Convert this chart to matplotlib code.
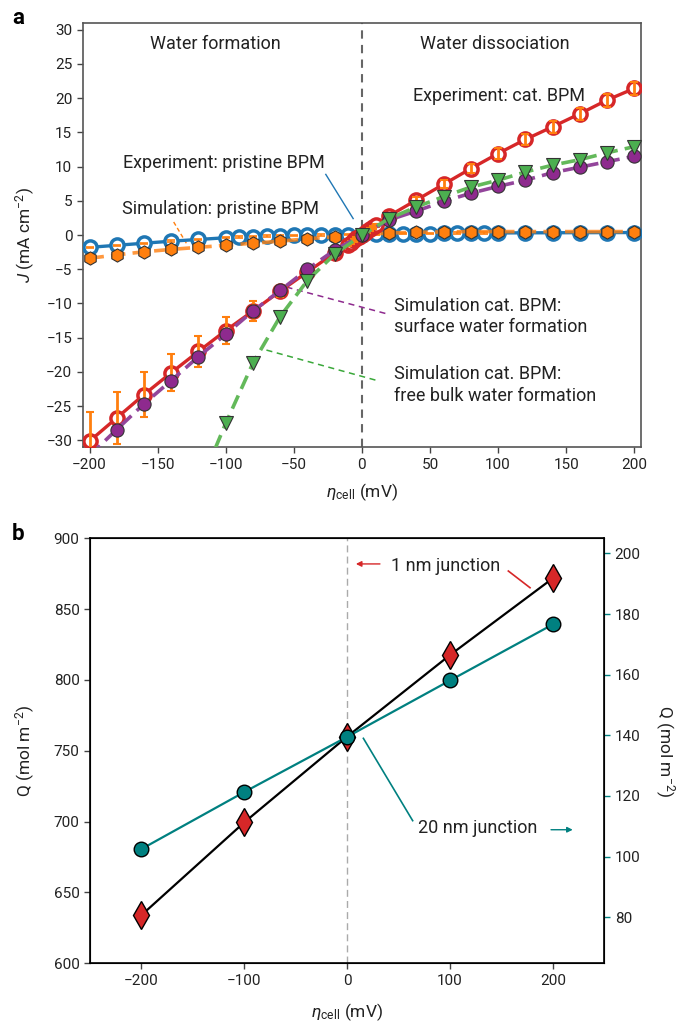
import matplotlib
matplotlib.use("Agg")
import matplotlib.pyplot as plt
import numpy as np

plt.rcParams['font.family'] = ['Roboto', 'DejaVu Sans']
plt.rcParams['mathtext.fontset'] = 'custom'
plt.rcParams['mathtext.rm'] = 'Roboto'
plt.rcParams['mathtext.it'] = 'Roboto:italic'
plt.rcParams['mathtext.bf'] = 'Roboto:bold'

# ---------------- Panel a data ----------------
x_pris_exp = [-200, -180, -160, -140, -120, -100, -90, -80, -70, -60, -50, -40, -30, -20, -10,
              0, 10, 20, 30, 40, 50, 60, 70, 80, 90, 100, 120, 140, 160, 180, 200]
J_pris_exp = [-1.8, -1.5, -1.2, -0.9, -0.65, -0.4, -0.3, -0.22, -0.15, -0.1, -0.06, -0.03, 0.0, 0.02, 0.03,
              0.05, 0.1, 0.15, 0.18, 0.2, 0.22, 0.25, 0.27, 0.28, 0.3, 0.3, 0.32, 0.33, 0.34, 0.35, 0.36]
err_pris_exp = [0.1] * len(x_pris_exp)

x_pris_sim = [-200, -180, -160, -140, -120, -100, -80, -60, -40, -20, 0,
              20, 40, 60, 80, 100, 120, 140, 160, 180, 200]
J_pris_sim = [-3.4, -2.9, -2.45, -2.1, -1.8, -1.5, -1.2, -0.9, -0.55, -0.25, 0.0,
              0.3, 0.4, 0.45, 0.5, 0.5, 0.5, 0.5, 0.5, 0.5, 0.5]

x_cat_exp = [-200, -180, -160, -140, -120, -100, -80, -60, -40, -20,
             -10, -8, -6, -4, -2, 0, 2, 4, 6, 8, 10,
             20, 40, 60, 80, 100, 120, 140, 160, 180, 200]
J_cat_exp = [-30.1, -26.7, -23.3, -20.1, -17.0, -13.95, -11.1, -8.2, -5.4, -2.6,
             -1.4, -1.1, -0.8, -0.5, -0.25, 0.0, 0.3, 0.55, 0.85, 1.1, 1.4,
             2.8, 5.1, 7.4, 9.7, 11.9, 13.95, 15.8, 17.7, 19.7, 21.4]
err_cat_exp = [4.3, 3.8, 3.3, 2.7, 2.3, 1.95, 1.45, 0.8, 0.6, 0.4,
               0.2, 0.2, 0.2, 0.2, 0.2, 0.2, 0.2, 0.2, 0.2, 0.2, 0.2,
               0.4, 0.5, 0.6, 0.7, 0.75, 0.8, 0.85, 0.9, 0.95, 1.0]

x_sim_surf = [-200, -180, -160, -140, -120, -100, -80, -60, -40, -20, 0,
              20, 40, 60, 80, 100, 120, 140, 160, 180, 200]
J_sim_surf = [-32.2, -28.4, -24.65, -21.25, -17.75, -14.5, -11.1, -8.1, -5.0, -2.2, 0.0,
              2.2, 3.5, 4.9, 6.1, 7.1, 8.0, 9.1, 9.9, 10.7, 11.5]

x_sim_bulk = [-120, -100, -80, -60, -40, -20, 0,
              20, 40, 60, 80, 100, 120, 140, 160, 180, 200]
J_sim_bulk = [-37.0, -27.5, -18.7, -11.9, -6.65, -2.8, 0.0,
              2.4, 4.1, 5.6, 7.0, 8.0, 9.2, 10.2, 11.0, 12.0, 12.9]

# ---------------- Panel b data ----------------
eta_b = [-200, -100, 0, 100, 200]
Q_1nm = [634, 699.5, 760, 817.6, 871.8]
Q_20nm = [102.5, 121.3, 139.5, 158.1, 176.6]

BLUE = '#1f77b4'
ORANGE = '#ff7f0e'
RED = '#d62728'
PURPLE = '#8e2a8e'
PURPLE_L = '#93459b'
GREEN = '#4caf50'
GREEN_L = '#63b95a'
TEAL = '#008080'
TXT = '#222222'

fig = plt.figure(figsize=(6.78, 10.22), dpi=100)
axa = fig.add_axes([0.122, 0.5623, 0.8235, 0.4155])
axb = fig.add_axes([0.1327, 0.0574, 0.7586, 0.4159])

TICK = 11
LAB = 12.5
TF = 13

# ---- Panel a ----
axa.axvline(0, color='#666666', ls=(0, (4, 3)), lw=1.5, zorder=1)

axa.plot(x_pris_exp, J_pris_exp, '-', color=BLUE, lw=2.4, marker='o', ms=9.5,
         mfc='white', mec=BLUE, mew=2.5, zorder=3)
axa.errorbar(x_pris_exp, J_pris_exp, yerr=err_pris_exp, fmt='none', ecolor=ORANGE,
             elinewidth=1.2, capsize=3, capthick=1.2, zorder=3.1)
axa.plot(x_pris_sim, J_pris_sim, ls=(0, (4, 2)), color=ORANGE, lw=2.6, alpha=0.8, zorder=3.5)
axa.plot(x_pris_sim, J_pris_sim, ls='none', marker='h', ms=9.5,
         mfc=ORANGE, mec='#333333', mew=0.8, zorder=3.6)

axa.plot(x_cat_exp, J_cat_exp, '-', color=RED, lw=2.4, marker='o', ms=9.5,
         mfc='white', mec=RED, mew=2.5, zorder=4)
axa.errorbar(x_cat_exp, J_cat_exp, yerr=err_cat_exp, fmt='none', ecolor=ORANGE,
             elinewidth=2.0, capsize=3, capthick=1.5, zorder=4.1)

axa.plot(x_sim_surf, J_sim_surf, ls=(0, (4, 2)), color=PURPLE_L, lw=2.6, zorder=5)
axa.plot(x_sim_surf, J_sim_surf, ls='none', marker='o', ms=9.5,
         mfc=PURPLE, mec='#333333', mew=0.8, zorder=5.1)

axa.plot(x_sim_bulk, J_sim_bulk, ls=(0, (4, 2)), color=GREEN_L, lw=2.6, zorder=6)
axa.plot(x_sim_bulk, J_sim_bulk, ls='none', marker='v', ms=10,
         mfc=GREEN, mec='#333333', mew=0.8, zorder=6.1)

axa.set_xlim(-205, 205)
axa.set_ylim(-31, 31)
axa.set_xticks(np.arange(-200, 201, 50))
axa.set_yticks(np.arange(-30, 31, 5))
axa.tick_params(direction='out', length=4, width=1, colors='#444444', labelcolor=TXT, labelsize=TICK)
for s in axa.spines.values():
    s.set_color('#555555')
    s.set_linewidth(1.2)
axa.set_ylabel(r'$J$ (mA cm$^{-2}$)', fontsize=LAB, color=TXT, va='center')
axa.yaxis.set_label_coords(-0.103, 0.5)
axa.set_xlabel(r'$\eta_{\rm cell}$ (mV)', fontsize=LAB, color=TXT, va='center')
axa.xaxis.set_label_coords(0.5, -0.105)

axa.text(-107.4, 27.85, 'Water formation', ha='center', va='center', fontsize=TF, color=TXT)
axa.text(97.4, 27.85, 'Water dissociation', ha='center', va='center', fontsize=TF, color=TXT)
axa.text(100.6, 20.3, 'Experiment: cat. BPM', ha='center', va='center', fontsize=TF, color=TXT)
axa.text(-101.6, 10.5, 'Experiment: pristine BPM', ha='center', va='center', fontsize=TF, color=TXT)
axa.text(-103.7, 3.75, 'Simulation: pristine BPM', ha='center', va='center', fontsize=TF, color=TXT)
axa.text(23.75, -11.9, 'Simulation cat. BPM:\nsurface water formation', ha='left', va='center',
         fontsize=TF, color=TXT, linespacing=1.25)
axa.text(23.75, -21.9, 'Simulation cat. BPM:\nfree bulk water formation', ha='left', va='center',
         fontsize=TF, color=TXT, linespacing=1.25)

axa.plot([-26.5, -6.4], [8.85, 2.4], '-', color=BLUE, lw=1.0, zorder=2)
axa.plot([-138.2, -128.9], [1.9, -1.2], ls=(0, (3, 2)), color=ORANGE, lw=1.0, zorder=2)
axa.plot([-55.4, 18.2], [-7.6, -11.5], ls=(0, (4, 3)), color=PURPLE, lw=1.1, zorder=2)
axa.plot([-70.1, 10.3], [-16.8, -21.2], ls=(0, (4, 3)), color='#3aa83a', lw=1.1, zorder=2)

fig.text(0.027, 0.982, 'a', fontsize=16, fontweight='bold', ha='center', va='center', color='black')
fig.text(0.027, 0.4775, 'b', fontsize=16, fontweight='bold', ha='center', va='center', color='black')

# ---- Panel b ----
axb.axvline(0, color='#aaaaaa', ls=(0, (5, 3)), lw=1.0, zorder=1)
axb.plot(eta_b, Q_1nm, '-', color='black', lw=1.6, marker='d', ms=14,
         mfc=RED, mec='black', mew=1.0, zorder=3)
axb.set_xlim(-250, 250)
axb.set_ylim(600, 900)
axb.set_xticks([-200, -100, 0, 100, 200])
axb.set_yticks(np.arange(600, 901, 50))
axb.tick_params(direction='out', length=4, width=1, colors='#444444', labelcolor=TXT, labelsize=TICK)
for s in axb.spines.values():
    s.set_color('black')
    s.set_linewidth(1.2)
axb.set_ylabel(r'Q (mol m$^{-2}$)', fontsize=LAB, color=TXT, va='center')
axb.yaxis.set_label_coords(-0.126, 0.5)
axb.set_xlabel(r'$\eta_{\rm cell}$ (mV)', fontsize=LAB, color=TXT, va='center')
axb.xaxis.set_label_coords(0.5, -0.114)

axr = axb.twinx()
axr.plot(eta_b, Q_20nm, '-', color=TEAL, lw=1.6, marker='o', ms=10.5,
         mfc=TEAL, mec='black', mew=1.0, zorder=4)
axr.set_ylim(64.8, 205)
axr.set_yticks(np.arange(80, 201, 20))
axr.tick_params(axis='y', direction='out', length=4, width=1, colors=TEAL, labelcolor=TXT, labelsize=TICK)
axr.set_ylabel(r'Q (mol m$^{-2}$)', fontsize=LAB, color=TXT, rotation=270, va='center')
axr.yaxis.set_label_coords(1.118, 0.5)

axb.annotate('', xy=(8.5, 881.9), xytext=(31.9, 881.9),
             arrowprops=dict(arrowstyle='-|>', color=RED, lw=1.0, mutation_scale=8,
                             shrinkA=0, shrinkB=0))
axb.text(42.3, 880.4, '1 nm junction', ha='left', va='center', fontsize=TF, color=TXT)
axb.plot([156.7, 177.8], [876.9, 865.1], '-', color=RED, lw=1.2)
axb.text(69.2, 695.3, '20 nm junction', ha='left', va='center', fontsize=TF, color=TXT)
axb.annotate('', xy=(219.3, 694.3), xytext=(198.2, 694.3),
             arrowprops=dict(arrowstyle='-|>', color=TEAL, lw=1.0, mutation_scale=8,
                             shrinkA=0, shrinkB=0))
axb.plot([15.8, 63.7], [758.8, 700.7], '-', color=TEAL, lw=1.2)

fig.savefig('out.png', dpi=100)
